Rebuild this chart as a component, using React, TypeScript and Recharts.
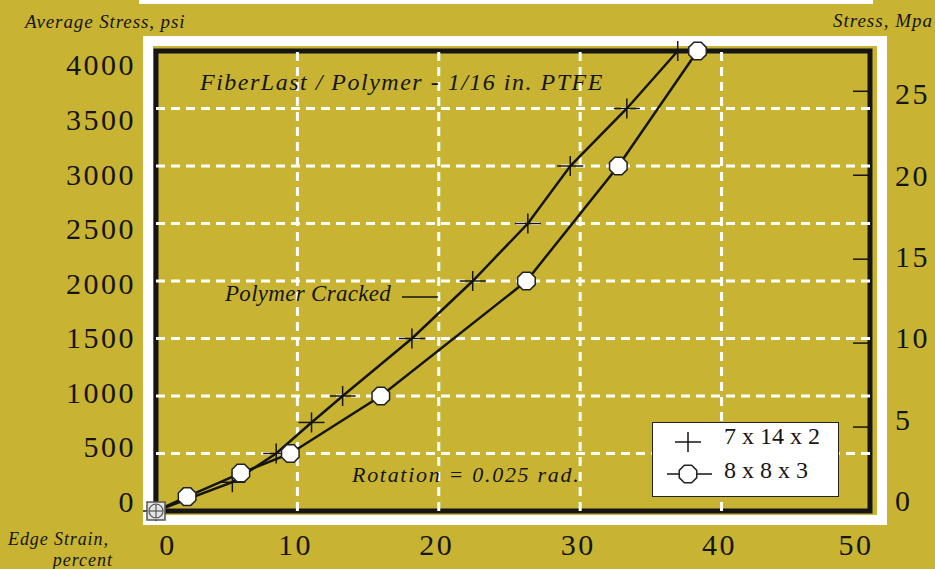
import React from 'react';
import { LineChart, Line, XAxis, YAxis, ReferenceArea, ReferenceLine, Legend } from 'recharts';

// 7 x 14 x 2 specimen (plus markers)
const plusStrain = [0, 5.4, 8.5, 11.0, 13.2, 18.1, 22.4, 26.3, 29.3, 33.3, 36.9];
const plusStress = [0, 250, 500, 770, 1000, 1500, 2000, 2500, 3000, 3500, 4000];

// 8 x 8 x 3 specimen (octagon markers)
const ringStrain = [0, 2.2, 6.0, 9.5, 15.9, 26.2, 32.7, 38.3];
const ringStress = [0, 125, 330, 500, 1000, 2000, 3000, 4000];

const seriesNames = ['7 x 14 x 2', '8 x 8 x 3'];

const strainTicks = [0, 10, 20, 30, 40, 50];
const psiTicks = [0, 500, 1000, 1500, 2000, 2500, 3000, 3500, 4000];
const mpaTicks = [0, 5, 10, 15, 20, 25];
const gridStrain = [10, 20, 30, 40];
const gridPsi = [500, 1000, 1500, 2000, 2500, 3000, 3500];

const BG = '#c8b432';
const INK = '#151515';
const SERIF = '"Liberation Serif", "Times New Roman", serif';

function octagon(cx: number, cy: number, r: number) {
  const pts: string[] = [];
  for (let i = 0; i < 8; i++) {
    const a = Math.PI / 8 + (i * Math.PI) / 4;
    pts.push(`${cx + r * Math.cos(a)},${cy + r * Math.sin(a)}`);
  }
  return pts.join(' ');
}

function PlusMark({ cx, cy }: { cx: number; cy: number }) {
  return (
    <g>
      <line x1={cx - 13} y1={cy} x2={cx + 13} y2={cy} stroke={INK} strokeWidth={1.5} />
      <line x1={cx} y1={cy - 10} x2={cx} y2={cy + 10} stroke={INK} strokeWidth={1.5} />
    </g>
  );
}

function RingMark({ cx, cy }: { cx: number; cy: number }) {
  return <polygon points={octagon(cx, cy, 9.5)} fill="#fff" stroke="#222" strokeWidth={1.5} />;
}

function PlusDot(props: any) {
  const { cx, cy } = props;
  if (cx == null || cy == null) return null;
  return <PlusMark cx={cx} cy={cy} />;
}

function RingDot(props: any) {
  const { cx, cy, index } = props;
  if (cx == null || cy == null) return null;
  if (index === 0) {
    // origin point is drawn as a boxed symbol
    return (
      <g>
        <rect x={cx - 9} y={cy - 9} width={18} height={18} fill="#e4e4e4" stroke="#555" strokeWidth={1.5} />
        <circle cx={cx} cy={cy} r={7} fill="none" stroke="#555" strokeWidth={1.2} />
        <line x1={cx - 7} y1={cy} x2={cx + 7} y2={cy} stroke="#555" strokeWidth={1.2} />
        <line x1={cx} y1={cy - 7} x2={cx} y2={cy + 7} stroke="#555" strokeWidth={1.2} />
      </g>
    );
  }
  return <RingMark cx={cx} cy={cy} />;
}

function StrainTick(props: any) {
  const { x, payload } = props;
  const v = payload.value;
  const shift = v === 0 ? 12 : v === 50 ? -7 : -2;
  return (
    <text x={x + shift} y={555} textAnchor="middle" fontFamily={SERIF} fontSize={30} letterSpacing={2.5} fill={INK}>
      {v}
    </text>
  );
}

function PsiTick(props: any) {
  const { y, payload } = props;
  return (
    <text x={136} y={17.1 + 0.949 * y} dy="0.33em" textAnchor="end" fontFamily={SERIF} fontSize={30} letterSpacing={2.5} fill={INK}>
      {payload.value}
    </text>
  );
}

function MpaTick(props: any) {
  const { y, payload } = props;
  return (
    <g>
      {payload.value > 0 && <line x1={853} y1={y} x2={868} y2={y} stroke={INK} strokeWidth={1.5} />}
      <text x={895} y={5.9 + 0.969 * y} dy="0.33em" textAnchor="start" fontFamily={SERIF} fontSize={30} letterSpacing={2.5} fill={INK}>
        {payload.value}
      </text>
    </g>
  );
}

function KeyBox() {
  return (
    <div style={{ width: 187, height: 75, boxSizing: 'border-box', background: '#fff', border: '1.5px solid #222' }}>
      <svg width={184} height={72} style={{ display: 'block' }}>
        <PlusMark cx={35} cy={19} />
        <text x={71} y={21} fontFamily={SERIF} fontSize={24} fill={INK}>{seriesNames[0]}</text>
        <line x1={14} y1={51} x2={59} y2={51} stroke={INK} strokeWidth={1.5} />
        <RingMark cx={35} cy={51} />
        <text x={71} y={55} fontFamily={SERIF} fontSize={24} fill={INK}>{seriesNames[1]}</text>
      </svg>
    </div>
  );
}

export default function App() {
  const plusData = plusStrain.map((s, i) => ({ strain: s, psi: plusStress[i] }));
  const ringData = ringStrain.map((s, i) => ({ strain: s, psi: ringStress[i] }));

  const italic = { fontFamily: SERIF, fontStyle: 'italic', fill: INK } as const;

  return (
    <div style={{ position: 'absolute', left: 0, top: 0, width: 935, height: 569, background: BG, overflow: 'hidden' }}>
      <div style={{ position: 'absolute', left: 139, top: 0, width: 734, height: 4, background: '#fff' }} />
      <div style={{ position: 'absolute', left: 143, top: 36, width: 744, height: 489, border: '10px solid #fff', boxSizing: 'border-box' }} />
      <div style={{ position: 'absolute', left: 0, top: 0 }}>
        <LineChart width={935} height={569} margin={{ top: 51, right: 5, bottom: 18, left: 96 }}>
          <XAxis
            xAxisId="x"
            type="number"
            dataKey="strain"
            domain={[0, 50.5]}
            ticks={strainTicks}
            interval={0}
            axisLine={false}
            tickLine={false}
            height={40}
            tick={(p: any) => <StrainTick {...p} />}
          />
          <YAxis
            yAxisId="psi"
            type="number"
            domain={[0, 4000]}
            ticks={psiTicks}
            interval={0}
            axisLine={false}
            tickLine={false}
            width={60}
            tick={(p: any) => <PsiTick {...p} />}
          />
          <YAxis
            yAxisId="mpa"
            orientation="right"
            type="number"
            domain={[0, 27.4]}
            allowDataOverflow
            ticks={mpaTicks}
            interval={0}
            axisLine={false}
            tickLine={false}
            width={60}
            tick={(p: any) => <MpaTick {...p} />}
          />
          {gridStrain.map((v) => (
            <ReferenceLine key={`gx${v}`} xAxisId="x" yAxisId="psi" x={v} stroke="#fff" strokeWidth={3} strokeDasharray="9 6" />
          ))}
          {gridPsi.map((v) => (
            <ReferenceLine key={`gy${v}`} xAxisId="x" yAxisId="psi" y={v} stroke="#fff" strokeWidth={3} strokeDasharray="9 6" />
          ))}
          <ReferenceArea xAxisId="x" yAxisId="psi" x1={0} x2={50.5} y1={0} y2={4000} fill="none" stroke={INK} strokeWidth={5} />
          <Line
            xAxisId="x"
            yAxisId="psi"
            data={plusData}
            dataKey="psi"
            name={seriesNames[0]}
            stroke={INK}
            strokeWidth={2.5}
            dot={(p: any) => <PlusDot key={`p${p.index}`} {...p} />}
            activeDot={false}
            isAnimationActive={false}
          />
          <Line
            xAxisId="x"
            yAxisId="psi"
            data={ringData}
            dataKey="psi"
            name={seriesNames[1]}
            stroke={INK}
            strokeWidth={2.5}
            dot={(p: any) => <RingDot key={`r${p.index}`} {...p} />}
            activeDot={false}
            isAnimationActive={false}
          />
          <Legend
            layout="horizontal"
            verticalAlign="middle"
            align="center"
            content={() => <KeyBox />}
            wrapperStyle={{ left: 652, top: 422, width: 187, height: 75 }}
          />
        </LineChart>
      </div>
      <svg width={935} height={569} style={{ position: 'absolute', left: 0, top: 0, pointerEvents: 'none' }}>
        <text x={25} y={28} fontSize={19} letterSpacing={0.9} {...italic}>Average Stress, psi</text>
        <text x={933} y={27} fontSize={19} letterSpacing={1} textAnchor="end" {...italic}>Stress, Mpa</text>
        <text x={8} y={545} fontSize={18} letterSpacing={0.9} {...italic}>Edge Strain,</text>
        <text x={113} y={566} fontSize={18} letterSpacing={1} textAnchor="end" {...italic}>percent</text>
        <text x={200} y={90} fontSize={24} letterSpacing={1.5} {...italic}>FiberLast / Polymer - 1/16 in. PTFE</text>
        <text x={225} y={301} fontSize={23} letterSpacing={0.3} {...italic}>Polymer Cracked</text>
        <line x1={402} y1={297} x2={438} y2={297} stroke={INK} strokeWidth={1.5} />
        <text x={352} y={482} fontSize={22} letterSpacing={1.7} {...italic}>Rotation = 0.025 rad.</text>
      </svg>
    </div>
  );
}
